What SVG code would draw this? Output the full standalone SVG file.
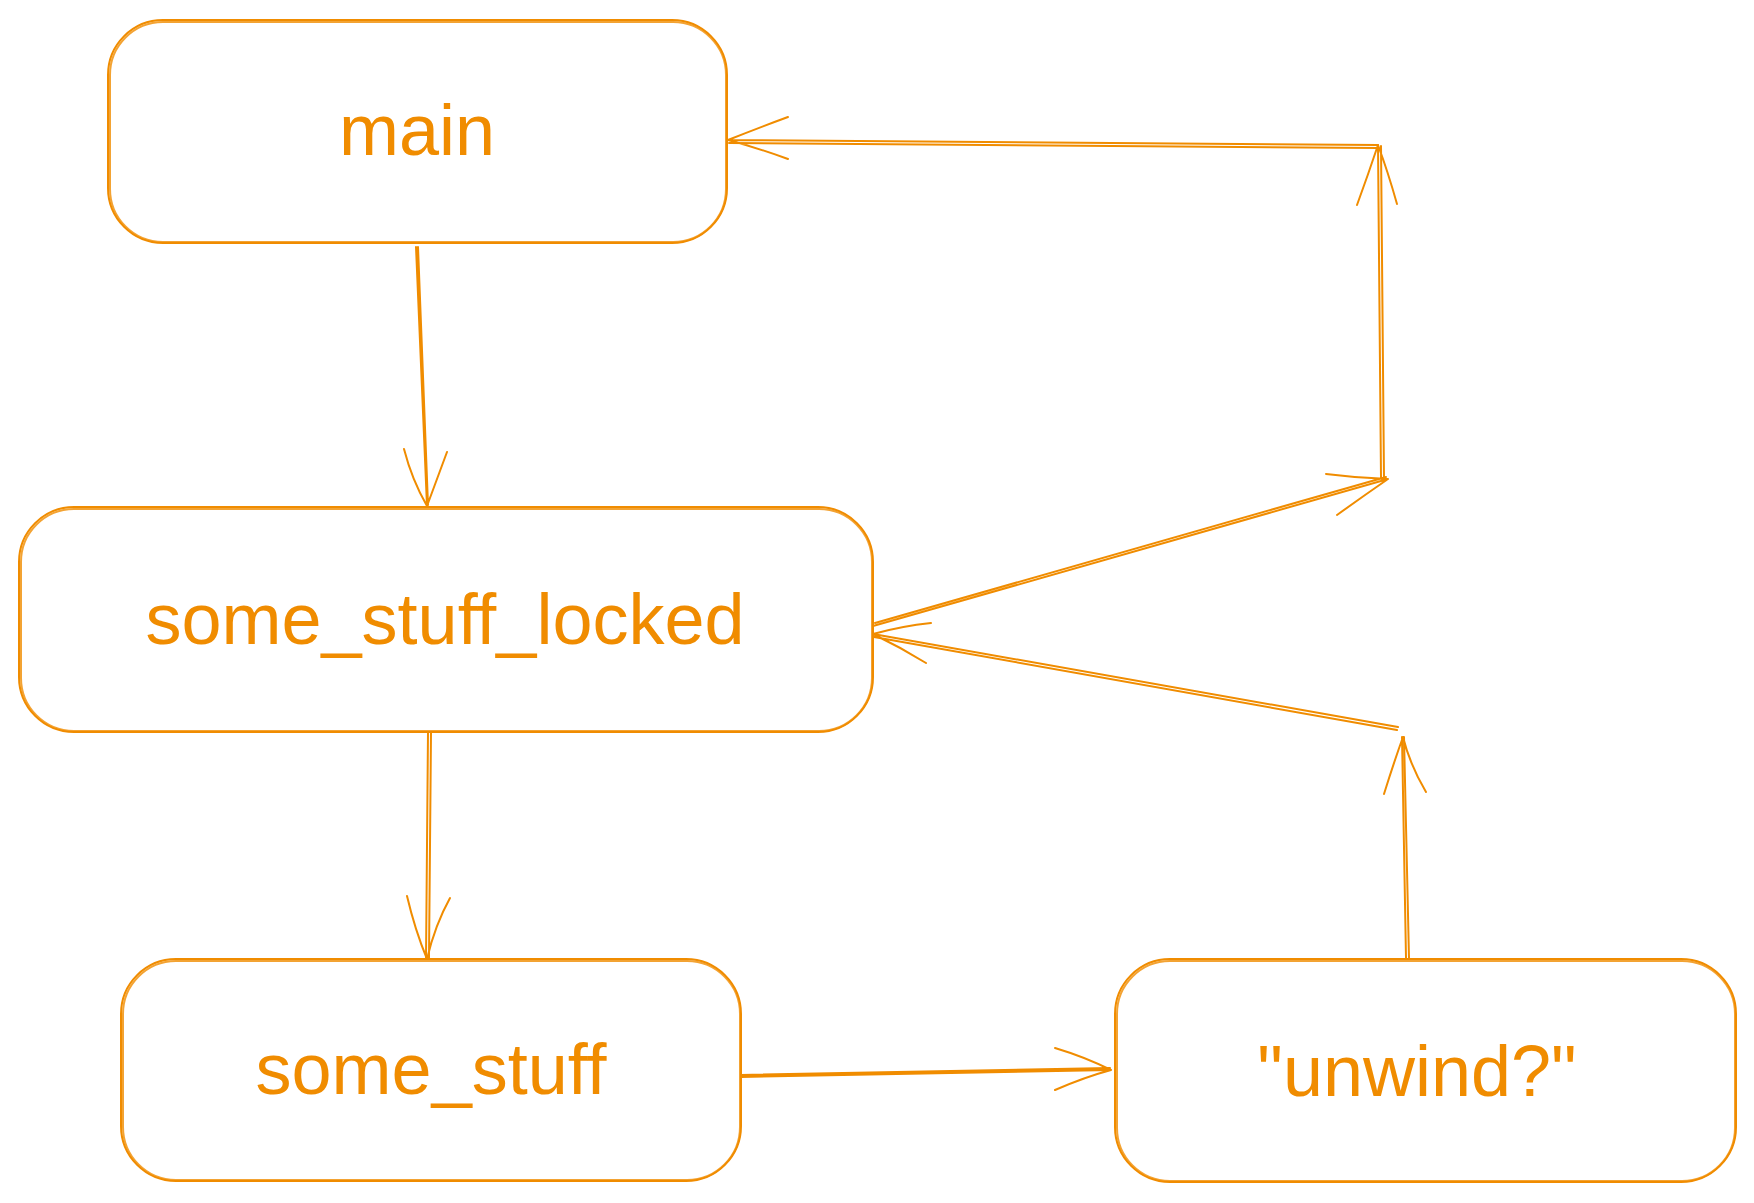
<svg xmlns="http://www.w3.org/2000/svg" width="1754" height="1203" viewBox="0 0 1754 1203">
<style>
.s{fill:none;stroke:#f08c00;stroke-width:2;stroke-linecap:round;stroke-linejoin:round}
.t{fill:#f08c00;font-family:"Liberation Sans",Arial,Helvetica,sans-serif;font-size:72px;text-anchor:middle}
</style>
<rect width="1754" height="1203" fill="#ffffff"/>
<g id="main">
<rect class="s" x="108" y="20" width="619" height="223" rx="55"/>
<rect class="s" x="110" y="22" width="616" height="220" rx="53" opacity="0.8"/>
<text class="t" x="417" y="155">main</text>
</g>
<g id="some_stuff_locked">
<rect class="s" x="19" y="507" width="854" height="225" rx="55"/>
<rect class="s" x="21" y="509" width="851" height="222" rx="53" opacity="0.8"/>
<text class="t" x="445" y="644">some_stuff_locked</text>
</g>
<g id="some_stuff">
<rect class="s" x="121" y="959" width="620" height="222" rx="55"/>
<rect class="s" x="123" y="961" width="617" height="219" rx="53" opacity="0.8"/>
<text class="t" x="431" y="1094">some_stuff</text>
</g>
<g id="unwind">
<rect class="s" x="1115" y="959" width="621" height="223" rx="55"/>
<rect class="s" x="1117" y="961" width="618" height="220" rx="53" opacity="0.8"/>
<text class="t" x="1417" y="1096">"unwind?"</text>
</g>
<g id="connectors">
<path class="s" d="M416 247 L427 506 M418 247 L428 505 M404 449 Q412 480 427 506 L447 452"/>
<path class="s" d="M428 732 L426 959 M431 732 L429 958 M407 896 Q415 930 427 959 Q435 925 450 898"/>
<path class="s" d="M741 1077 L1111 1070 M741 1075 L1110 1068 M1055 1048 Q1085 1057 1111 1070 Q1085 1077 1055 1090"/>
<path class="s" d="M1406 958 L1402 737 M1409 958 L1404 737 M1384 794 Q1394 762 1403 737 Q1410 765 1426 792"/>
<path class="s" d="M1398 727 L873 634 M1397 730 L874 637 M931 623 Q902 626 873 634 Q900 647 926 663"/>
<path class="s" d="M873 626 L1388 479 M875 623 L1386 477 M1326 474 Q1357 478 1388 479 Q1362 497 1337 515"/>
<path class="s" d="M1381 478 L1378 145 M1384 478 L1381 146 M1357 205 Q1368 175 1378 145 Q1388 172 1397 204"/>
<path class="s" d="M1378 145 L728 140 M1378 148 L729 143 M788 117 Q758 128 728 140 Q758 148 788 159"/>
</g>
</svg>
